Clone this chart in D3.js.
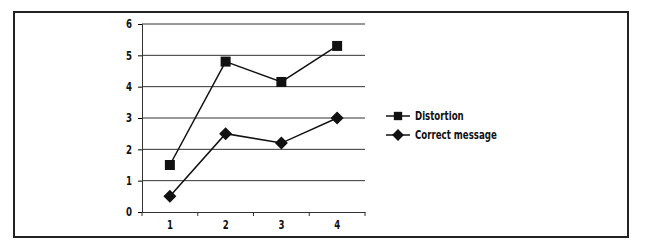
<!DOCTYPE html>
<html>
<head>
<meta charset="utf-8">
<script src="https://cdn.jsdelivr.net/npm/d3@7"></script>
<style>
  body { margin: 0; background: #fff; }
  text { font-family: "DejaVu Sans", sans-serif; font-weight: bold; fill: #111; }
</style>
</head>
<body>
<div id="chart"></div>
<script>
// Data
const categories = ["1", "2", "3", "4"];
const seriesNames = ["Distortion", "Correct message"];
const distortion = [1.5, 4.8, 4.15, 5.3];
const correctMessage = [0.5, 2.5, 2.2, 3.0];
const yTicks = [0, 1, 2, 3, 4, 5, 6];

const width = 649;
const height = 244;
const margin = {left: 142, right: 284, top: 24, bottom: 32};
// the original font is a narrow one, squeeze DejaVu to match
const squeeze = "scale(0.72,1)";

const svg = d3.select("#chart")
  .append("svg")
  .attr("width", width)
  .attr("height", height);

// outer frame
svg.append("rect")
  .attr("x", 14).attr("y", 12)
  .attr("width", 614).attr("height", 225)
  .attr("fill", "none")
  .attr("stroke", "#222")
  .attr("stroke-width", 2);

const xScale = d3.scaleBand()
  .domain(categories)
  .range([margin.left, width - margin.right]);

const yScale = d3.scaleLinear()
  .domain([0, 6])
  .range([height - margin.bottom, margin.top]);

// gridlines
svg.append("g")
  .selectAll("line")
  .data(yTicks.filter(d => d > 0))
  .enter()
  .append("line")
    .attr("x1", margin.left)
    .attr("x2", width - margin.right)
    .attr("y1", d => yScale(d))
    .attr("y2", d => yScale(d))
    .attr("stroke", "#333")
    .attr("stroke-width", 1);

// y axis
const yAxis = svg.append("g")
  .attr("transform", `translate(${margin.left},0)`)
  .call(d3.axisLeft(yScale).tickValues(yTicks).tickFormat(d3.format("d")).tickSize(4).tickPadding(10));
yAxis.selectAll("text").attr("font-size", "12px").attr("transform", squeeze);
yAxis.attr("font-family", null);

// x axis
const xAxis = svg.append("g")
  .attr("transform", `translate(0,${height - margin.bottom})`)
  .call(d3.axisBottom(xScale).tickSize(0).tickPadding(8));
xAxis.selectAll("text").attr("font-size", "12px").attr("transform", squeeze);
xAxis.attr("font-family", null);
// tick marks between categories
xAxis.selectAll(".sep")
  .data(d3.range(categories.length + 1))
  .enter()
  .append("line")
    .attr("class", "sep")
    .attr("x1", i => margin.left + i * xScale.bandwidth())
    .attr("x2", i => margin.left + i * xScale.bandwidth())
    .attr("y1", 0).attr("y2", 4)
    .attr("stroke", "#333");

svg.selectAll(".domain").attr("stroke", "#333");

const xc = (d, i) => xScale(categories[i]) + xScale.bandwidth() / 2;

const line = d3.line()
  .x((d, i) => xc(d, i))
  .y(d => yScale(d));

const square = d3.symbol().type(d3.symbolSquare).size(100);
const diamond = d3.symbol().type(d3.symbolSquare).size(85);

// Distortion series
svg.append("path")
  .datum(distortion)
  .attr("d", line)
  .attr("fill", "none")
  .attr("stroke", "#111")
  .attr("stroke-width", 1.5);
svg.selectAll(".sq")
  .data(distortion)
  .enter()
  .append("path")
    .attr("class", "sq")
    .attr("d", square)
    .attr("transform", (d, i) => `translate(${xc(d, i)},${yScale(d)})`)
    .attr("fill", "#111");

// Correct message series
svg.append("path")
  .datum(correctMessage)
  .attr("d", line)
  .attr("fill", "none")
  .attr("stroke", "#111")
  .attr("stroke-width", 1.5);
svg.selectAll(".dm")
  .data(correctMessage)
  .enter()
  .append("path")
    .attr("class", "dm")
    .attr("d", diamond)
    .attr("transform", (d, i) => `translate(${xc(d, i)},${yScale(d)}) rotate(45)`)
    .attr("fill", "#111");

// Legend
const legend = svg.append("g").attr("transform", "translate(386,116)");
const symbols = [d3.symbol().type(d3.symbolSquare).size(70), d3.symbol().type(d3.symbolSquare).size(70)];
seriesNames.forEach((name, i) => {
  const g = legend.append("g").attr("transform", `translate(0,${i * 19})`);
  g.append("line")
    .attr("x1", 0).attr("x2", 24)
    .attr("stroke", "#111").attr("stroke-width", 1.5);
  g.append("path")
    .attr("d", symbols[i])
    .attr("transform", i === 1 ? "translate(12,0) rotate(45)" : "translate(12,0)")
    .attr("fill", "#111");
  g.append("text")
    .attr("transform", "translate(29,0) " + squeeze)
    .attr("dy", "0.35em")
    .attr("font-size", "12px")
    .text(name);
});
</script>
</body>
</html>
